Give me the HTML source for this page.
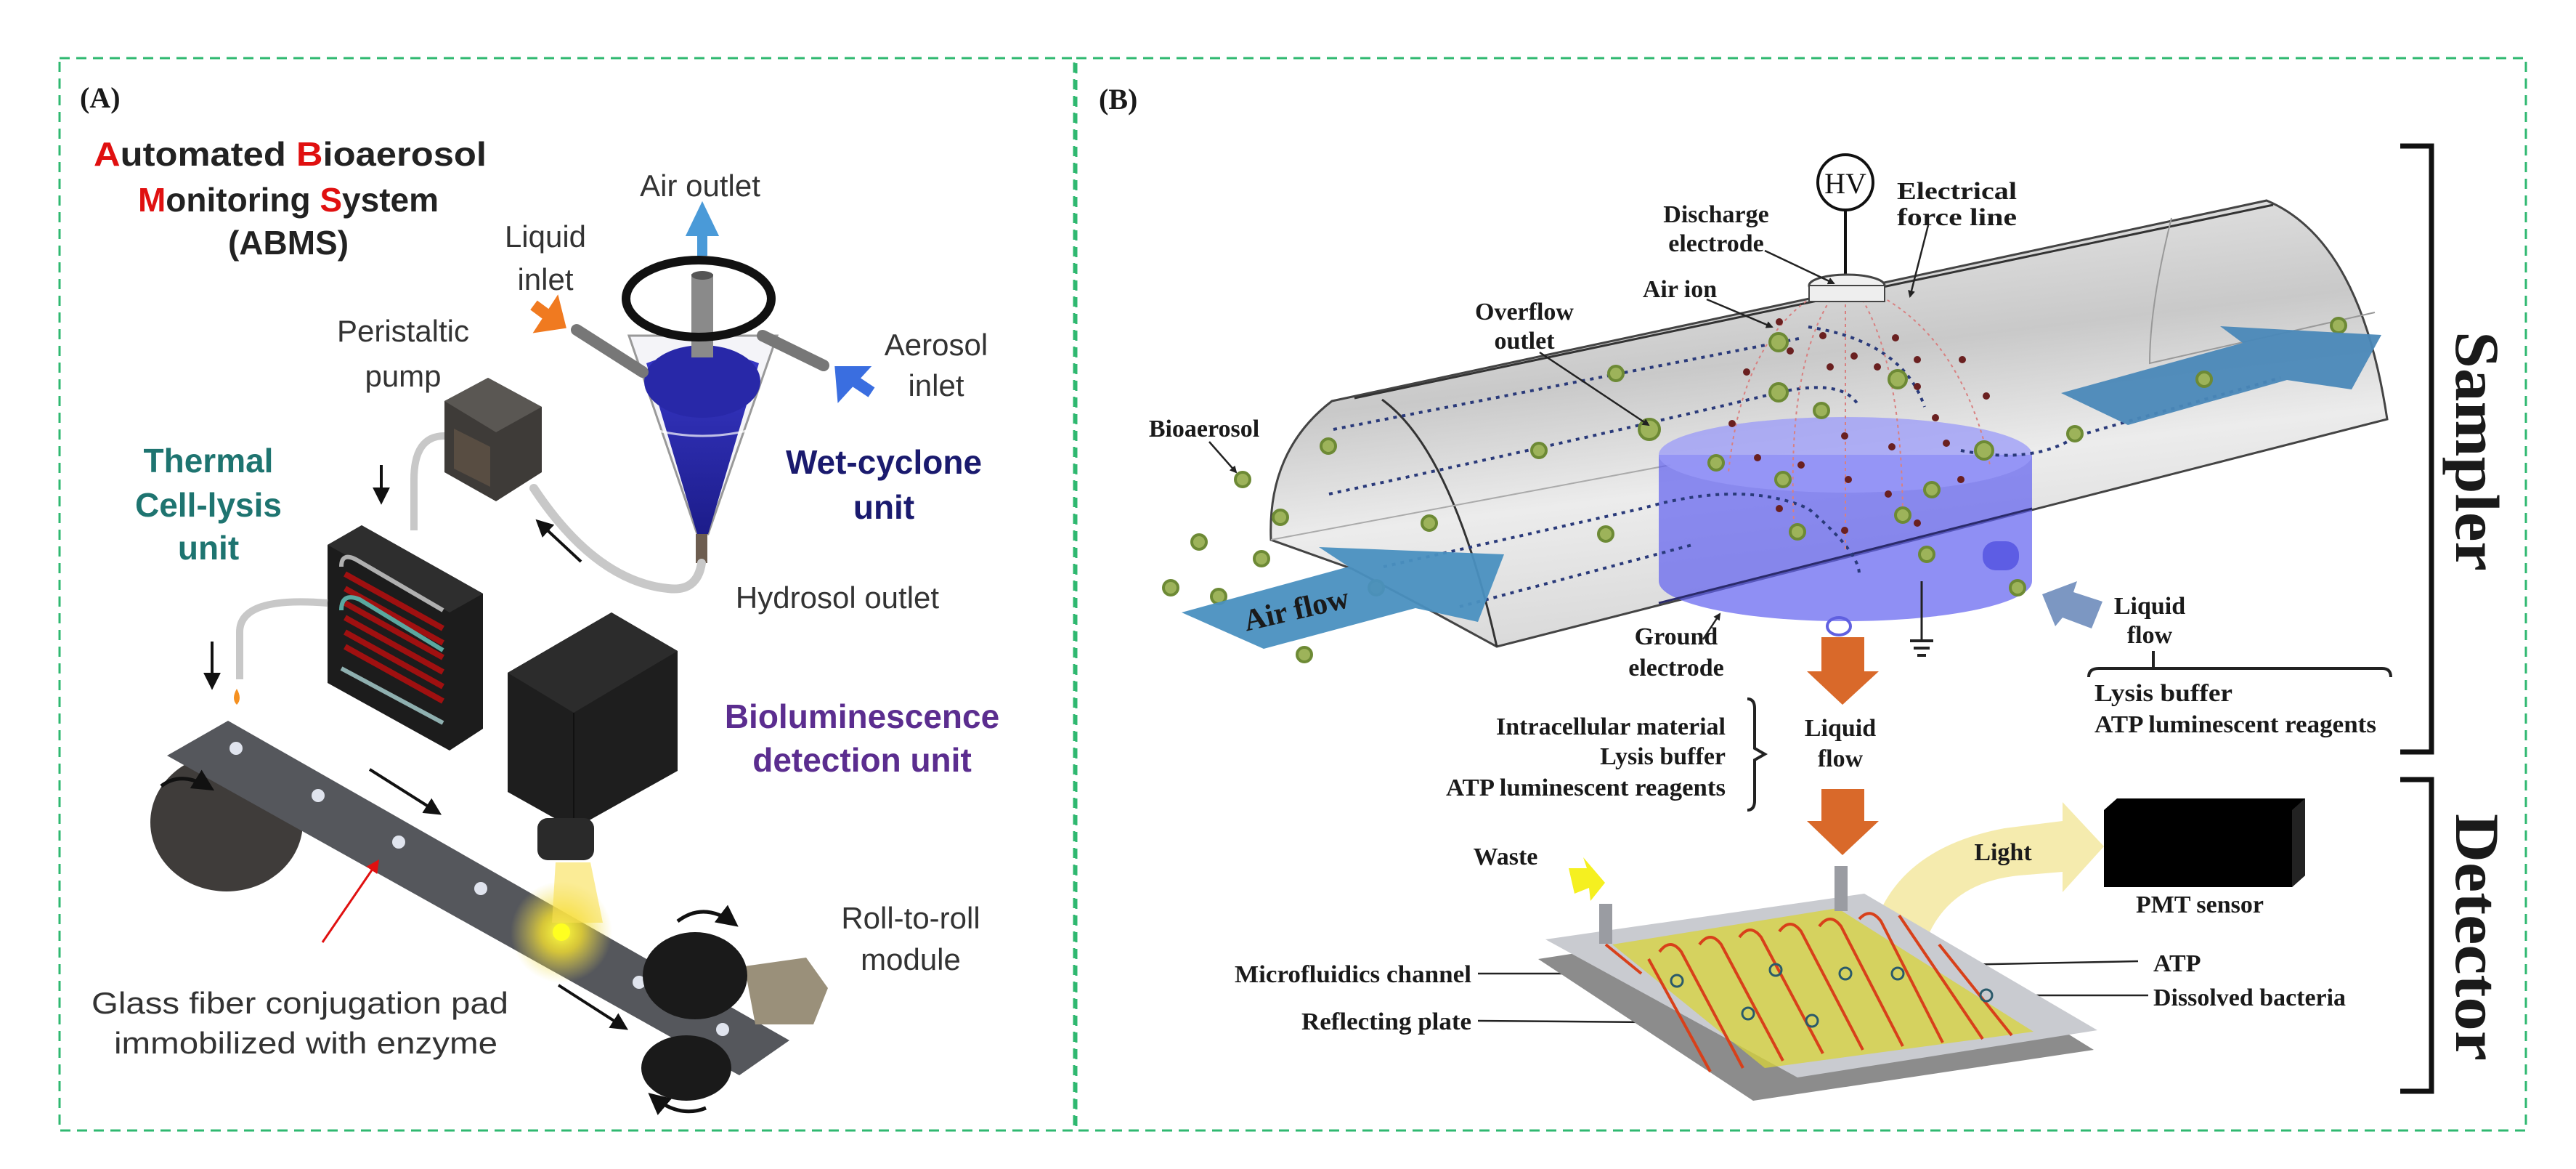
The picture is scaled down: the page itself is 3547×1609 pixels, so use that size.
<!DOCTYPE html>
<html><head><meta charset="utf-8"><style>
html,body{margin:0;padding:0;background:#fff;}
svg{display:block;}
.sa{font-family:"Liberation Sans",Arial,sans-serif;fill:#333;}
.sr{font-family:"Liberation Serif","Times New Roman",serif;font-weight:bold;fill:#1a1a1a;}
</style></head><body>
<svg width="3547" height="1609" viewBox="0 0 3547 1609" xmlns="http://www.w3.org/2000/svg">
<defs>
<linearGradient id="tube" x1="0" y1="0" x2="0.3" y2="1">
<stop offset="0" stop-color="#f4f4f4"/><stop offset="0.45" stop-color="#c9c9c9"/><stop offset="0.7" stop-color="#ececec"/><stop offset="1" stop-color="#d8d8d8"/></linearGradient>
<radialGradient id="glow"><stop offset="0" stop-color="#ffff40"/><stop offset="0.4" stop-color="#f5e030" stop-opacity="0.8"/><stop offset="1" stop-color="#f0e060" stop-opacity="0"/></radialGradient>
<linearGradient id="blue" x1="0" y1="0" x2="0" y2="1"><stop offset="0" stop-color="#3838c8"/><stop offset="1" stop-color="#1c1c8a"/></linearGradient>
<marker id="ah" viewBox="0 0 10 10" refX="8" refY="5" markerWidth="6" markerHeight="6" orient="auto"><path d="M0,0L10,5L0,10z" fill="#111"/></marker>
<marker id="ahr" viewBox="0 0 10 10" refX="8" refY="5" markerWidth="6" markerHeight="6" orient="auto"><path d="M0,0L10,5L0,10z" fill="#e01010"/></marker>
<marker id="ahs" viewBox="0 0 10 10" refX="8" refY="5" markerWidth="4" markerHeight="4" orient="auto"><path d="M0,0L10,5L0,10z" fill="#222"/></marker>
</defs>

<rect x="82" y="80" width="1397" height="1476" fill="none" stroke="#2fb870" stroke-width="3" stroke-dasharray="14,9"/>
<rect x="1482" y="80" width="1996" height="1476" fill="none" stroke="#2fb870" stroke-width="3" stroke-dasharray="14,9"/>

<!-- ============ PANEL A ============ -->
<text x="110" y="148" class="sr" font-size="40">(A)</text>
<g font-family="Liberation Sans,Arial,sans-serif" font-weight="bold" font-size="46" fill="#222">
<text x="129" y="228" textLength="541" lengthAdjust="spacingAndGlyphs"><tspan fill="#e01010">A</tspan>utomated <tspan fill="#e01010">B</tspan>ioaerosol</text>
<text x="397" y="291" text-anchor="middle"><tspan fill="#e01010">M</tspan>onitoring <tspan fill="#e01010">S</tspan>ystem</text>
<text x="397" y="350" text-anchor="middle">(ABMS)</text>
</g>
<g class="sa" font-size="42">
<text x="964" y="270" text-anchor="middle">Air outlet</text>
<text x="751" y="340" text-anchor="middle">Liquid</text>
<text x="751" y="399" text-anchor="middle">inlet</text>
<text x="555" y="470" text-anchor="middle">Peristaltic</text>
<text x="555" y="532" text-anchor="middle">pump</text>
<text x="1289" y="489" text-anchor="middle">Aerosol</text>
<text x="1289" y="545" text-anchor="middle">inlet</text>
<text x="1153" y="837" text-anchor="middle">Hydrosol outlet</text>
<text x="1254" y="1278" text-anchor="middle">Roll-to-roll</text>
<text x="1254" y="1335" text-anchor="middle">module</text>
<text x="413" y="1395" text-anchor="middle" textLength="574" lengthAdjust="spacingAndGlyphs">Glass fiber conjugation pad</text>
<text x="421" y="1450" text-anchor="middle" textLength="528" lengthAdjust="spacingAndGlyphs">immobilized with enzyme</text>
</g>
<g font-family="Liberation Sans,Arial,sans-serif" font-weight="bold" font-size="46">
<text x="287" y="650" text-anchor="middle" fill="#1e7470">Thermal</text>
<text x="287" y="711" text-anchor="middle" fill="#1e7470">Cell-lysis</text>
<text x="287" y="770" text-anchor="middle" fill="#1e7470">unit</text>
<text x="1217" y="652" text-anchor="middle" fill="#1a1a6e">Wet-cyclone</text>
<text x="1217" y="714" text-anchor="middle" fill="#1a1a6e">unit</text>
<text x="1187" y="1002" text-anchor="middle" fill="#5b2d8f">Bioluminescence</text>
<text x="1187" y="1062" text-anchor="middle" fill="#5b2d8f">detection unit</text>
</g>

<path d="M866,462 L1070,462 L975,735 L960,735 Z" fill="#f4f4f8" stroke="#999" stroke-width="3"/>
<path d="M890,500 Q967,470 1045,500 L975,735 L960,735 Z" fill="url(#blue)"/>
<ellipse cx="967" cy="525" rx="80" ry="50" fill="#2828a8"/>
<path d="M895,590 Q967,610 1040,590" stroke="#fff" stroke-width="3" fill="none" opacity="0.7"/>
<line x1="794" y1="454" x2="885" y2="512" stroke="#777" stroke-width="16" stroke-linecap="round"/>
<line x1="1050" y1="462" x2="1134" y2="503" stroke="#777" stroke-width="16" stroke-linecap="round"/>
<rect x="952" y="377" width="30" height="115" fill="#8a8a8a"/>
<ellipse cx="967" cy="379" rx="15" ry="6" fill="#555"/>
<ellipse cx="962" cy="411" rx="100" ry="53" fill="none" stroke="#111" stroke-width="12"/>
<rect x="958" y="735" width="16" height="40" fill="#6d5d50"/>
<path d="M967,352 L967,315 M955,318 L967,293 L979,318 Z" stroke="#4a9ad8" stroke-width="14" fill="#4a9ad8"/>
<path d="M735,420 L762,440 M750,448 L770,445 L765,425Z" stroke="#f07a20" stroke-width="16" fill="#f07a20"/>
<path d="M1200,540 L1170,520 M1160,536 L1158,512 L1182,512 Z" stroke="#3a6ee0" stroke-width="16" fill="#3a6ee0"/>
<path d="M966,775 Q960,815 920,810 Q820,800 735,672" fill="none" stroke="#c8c8c8" stroke-width="12" stroke-linecap="round"/>
<polygon points="612,552 672,520 746,560 746,650 683,690 612,650" fill="#3e3b38"/>
<polygon points="612,552 672,520 746,560 683,595" fill="#5a5753"/>
<polygon points="625,590 675,615 675,670 625,645" fill="#6a5a4a" opacity="0.6"/>
<path d="M612,600 Q570,600 570,660 L570,730" fill="none" stroke="#c8c8c8" stroke-width="10"/>
<line x1="525" y1="640" x2="525" y2="690" stroke="#111" stroke-width="4" marker-end="url(#ah)"/>
<line x1="800" y1="773" x2="741" y2="718" stroke="#111" stroke-width="4" marker-end="url(#ah)"/>
<polygon points="451,750 498,723 665,817 665,1003 619,1033 451,940" fill="#1c1c1c"/>
<polygon points="451,750 498,723 665,817 619,843" fill="#2e2e2e"/>
<g fill="none" stroke-width="6">
<path d="M470,780 Q470,760 490,770 L610,840" stroke="#b0b0b0"/>
<path d="M475,790 L610,865 M475,810 L610,885 M475,830 L610,905 M475,850 L610,925 M475,870 L610,945 M475,890 L610,965" stroke="#a01010" stroke-width="8"/>
<path d="M470,840 Q470,815 495,825 L610,895" stroke="#5aa8a0"/>
<path d="M470,920 L610,995" stroke="#8fb0b0"/>
</g>
<path d="M451,830 Q330,820 330,870 L330,935" fill="none" stroke="#c8c8c8" stroke-width="10"/>
<line x1="292" y1="883" x2="292" y2="945" stroke="#111" stroke-width="4" marker-end="url(#ah)"/>
<path d="M326,948 Q318,962 326,970 Q334,962 326,948Z" fill="#f59020"/>
<ellipse cx="312" cy="1132" rx="105" ry="95" fill="#3f3c3a"/>
<polygon points="314,992 1087,1432 1018,1480 230,1040" fill="#55575c"/>
<circle cx="773" cy="1283" r="70" fill="url(#glow)"/>
<polygon points="765,1187 813,1187 830,1270 760,1270" fill="#f8e050" opacity="0.6"/>
<g fill="#e0e4ee"><circle cx="325" cy="1030" r="9"/><circle cx="438" cy="1095" r="9"/><circle cx="549" cy="1159" r="9"/><circle cx="662" cy="1223" r="9"/><circle cx="880" cy="1352" r="9"/><circle cx="995" cy="1417" r="9"/></g>
<circle cx="773" cy="1283" r="12" fill="#ffff20"/>
<path d="M222,1082 Q250,1060 290,1085" stroke="#111" stroke-width="5" fill="none" marker-end="url(#ah)"/>
<line x1="509" y1="1059" x2="604" y2="1119" stroke="#111" stroke-width="4" marker-end="url(#ah)"/>
<line x1="769" y1="1356" x2="861" y2="1415" stroke="#111" stroke-width="4" marker-end="url(#ah)"/>
<line x1="444" y1="1297" x2="520" y2="1186" stroke="#e01010" stroke-width="3" marker-end="url(#ahr)"/>
<polygon points="699,926 842,843 933,896 933,1061 790,1141 699,1090" fill="#1e1e1e"/>
<polygon points="699,926 842,843 933,896 790,981" fill="#2c2c2c"/>
<line x1="790" y1="981" x2="790" y2="1141" stroke="#111" stroke-width="2"/>
<rect x="740" y="1126" width="78" height="58" rx="14" fill="#2a2a2a"/>
<polygon points="1025,1330 1110,1318 1140,1360 1120,1410 1040,1410" fill="#9a907a"/>
<ellipse cx="957" cy="1343" rx="72" ry="60" fill="#1a1a1a"/>
<ellipse cx="945" cy="1470" rx="62" ry="45" fill="#1a1a1a"/>
<path d="M933,1268 Q970,1240 1012,1272" stroke="#111" stroke-width="5" fill="none" marker-end="url(#ah)"/>
<path d="M972,1525 Q935,1540 897,1508" stroke="#111" stroke-width="5" fill="none" marker-end="url(#ah)"/>

<!-- ============ PANEL B ============ -->
<text x="1513" y="150" class="sr" font-size="40">(B)</text>
<path d="M3305,201 L3348,201 L3348,1035 L3305,1035" fill="none" stroke="#111" stroke-width="7"/>
<path d="M3305,1073 L3348,1073 L3348,1502 L3305,1502" fill="none" stroke="#111" stroke-width="7"/>
<text class="sr" font-size="86" transform="translate(3382,621) rotate(90)" text-anchor="middle" textLength="330" lengthAdjust="spacingAndGlyphs" fill="#111">Sampler</text>
<text class="sr" font-size="86" transform="translate(3382,1290) rotate(90)" text-anchor="middle" textLength="340" lengthAdjust="spacingAndGlyphs" fill="#111">Detector</text>

<path d="M1834,552 L3121,276 Q3250,330 3287,577 L2061,890 L1960,835 L1862,783 L1750,743 Q1745,620 1834,552 Z" fill="url(#tube)" stroke="#444" stroke-width="3"/>
<path d="M1903,550 Q2000,620 2061,890" fill="none" stroke="#333" stroke-width="3"/>
<line x1="1865" y1="548" x2="3130" y2="282" stroke="#333" stroke-width="3"/>
<path d="M2990,300 Q2960,420 2960,500 L3270,430" fill="none" stroke="#999" stroke-width="2"/>
<line x1="1750" y1="743" x2="2300" y2="640" stroke="#aaa" stroke-width="2"/>
<path d="M2284,626 L2284,800 A257,55 0 0 0 2798,800 L2798,626 Z" fill="#6060f0" opacity="0.7"/>
<ellipse cx="2541" cy="626" rx="257" ry="52" fill="#9a9af8" opacity="0.75"/>
<rect x="2730" y="745" width="50" height="40" rx="18" fill="#5050e0" opacity="0.8"/>
<ellipse cx="2532" cy="862" rx="16" ry="12" fill="none" stroke="#6060e0" stroke-width="4"/>
<line x1="2284" y1="830" x2="2798" y2="700" stroke="#2a2a6a" stroke-width="3"/>
<g fill="none" stroke="#2a3a7a" stroke-width="4" stroke-dasharray="5,7">
<path d="M1836,591 L2482,465"/>
<path d="M1830,680 Q2200,600 2450,540 Q2540,520 2560,560"/>
<path d="M1905,780 L2260,700 Q2400,660 2490,700 Q2560,760 2560,790"/>
<path d="M2010,835 L2330,750"/>
<path d="M2700,620 Q2800,640 2860,600 L3140,520"/>
<path d="M2490,450 Q2620,470 2650,560"/>
</g>
<g fill="none" stroke="#d88080" stroke-width="2" stroke-dasharray="4,5">
<path d="M2510,400 Q2400,460 2380,650"/><path d="M2525,405 Q2460,500 2470,720"/>
<path d="M2541,410 L2541,760"/><path d="M2560,405 Q2620,500 2620,720"/>
<path d="M2575,400 Q2700,460 2740,640"/>
</g>
<g fill="#6a2020">
<circle cx="2450" cy="443" r="5"/><circle cx="2465" cy="483" r="5"/><circle cx="2510" cy="462" r="5"/><circle cx="2553" cy="490" r="5"/><circle cx="2520" cy="505" r="5"/><circle cx="2585" cy="505" r="5"/><circle cx="2610" cy="465" r="5"/><circle cx="2640" cy="495" r="5"/><circle cx="2702" cy="495" r="5"/><circle cx="2405" cy="512" r="5"/><circle cx="2640" cy="532" r="5"/><circle cx="2665" cy="575" r="5"/><circle cx="2735" cy="545" r="5"/><circle cx="2385" cy="583" r="5"/><circle cx="2540" cy="600" r="5"/><circle cx="2605" cy="615" r="5"/><circle cx="2680" cy="610" r="5"/><circle cx="2420" cy="630" r="5"/><circle cx="2480" cy="640" r="5"/><circle cx="2545" cy="660" r="5"/><circle cx="2600" cy="680" r="5"/><circle cx="2700" cy="660" r="5"/><circle cx="2450" cy="700" r="5"/><circle cx="2540" cy="730" r="5"/><circle cx="2640" cy="720" r="5"/>
</g>
<circle cx="2541" cy="251" r="38" fill="#fff" stroke="#111" stroke-width="4"/>
<text x="2541" y="266" text-anchor="middle" font-family="Liberation Serif,serif" font-size="40" fill="#111">HV</text>
<line x1="2541" y1="289" x2="2541" y2="385" stroke="#111" stroke-width="4"/>
<ellipse cx="2543" cy="393" rx="52" ry="15" fill="#f0f0f0" stroke="#444" stroke-width="3"/>
<rect x="2491" y="393" width="104" height="22" fill="#eee" stroke="#444" stroke-width="2"/>
<g fill="#9db35a" stroke="#6d8a35" stroke-width="4">
<circle cx="1829" cy="614" r="10"/><circle cx="1711" cy="660" r="10"/><circle cx="1763" cy="712" r="10"/><circle cx="1651" cy="746" r="10"/><circle cx="1737" cy="769" r="10"/><circle cx="1612" cy="809" r="10"/><circle cx="1678" cy="821" r="10"/><circle cx="1796" cy="901" r="10"/><circle cx="1895" cy="809" r="10"/><circle cx="1968" cy="720" r="10"/><circle cx="2119" cy="620" r="10"/><circle cx="2211" cy="735" r="10"/><circle cx="2225" cy="514" r="10"/><circle cx="2271" cy="591" r="14"/><circle cx="2449" cy="471" r="12"/><circle cx="2449" cy="540" r="12"/><circle cx="2508" cy="565" r="10"/><circle cx="2613" cy="522" r="12"/><circle cx="2363" cy="637" r="10"/><circle cx="2455" cy="660" r="10"/><circle cx="2660" cy="674" r="10"/><circle cx="2620" cy="709" r="10"/><circle cx="2475" cy="732" r="10"/><circle cx="2732" cy="620" r="12"/><circle cx="2653" cy="763" r="10"/><circle cx="2778" cy="809" r="10"/><circle cx="2857" cy="597" r="10"/><circle cx="3035" cy="522" r="10"/><circle cx="3220" cy="448" r="10"/>
</g>
<polygon points="1627,843 1857,780 1816,753 2071,763 2035,856 1949,837 1740,893" fill="#4a90c0" opacity="0.95"/>
<text class="sr" font-size="42" transform="translate(1788,852) rotate(-13)" text-anchor="middle" fill="#0f1f3a">Air flow</text>
<polygon points="2838,541 3088,472 3057,449 3279,461 3238,536 3149,523 2930,585" fill="#4a88b8" opacity="0.95"/>
<circle cx="3035" cy="522" r="10" fill="#9db35a" stroke="#6d8a35" stroke-width="4"/>
<polygon points="2812,818 2860,800 2855,815 2895,828 2880,865 2840,850 2830,862" fill="#7c97c2"/>
<line x1="2646" y1="800" x2="2646" y2="880" stroke="#222" stroke-width="3"/>
<path d="M2630,882 H2662 M2635,892 H2657 M2640,902 H2652" stroke="#222" stroke-width="4"/>

<!-- light arrow (behind labels) -->
<path d="M2574,1300 Q2600,1170 2760,1140 L2840,1130 L2840,1104 L2897,1165 L2840,1228 L2840,1200 L2780,1205 Q2680,1215 2650,1300 Z" fill="#f3e7a0" opacity="0.85"/>
<polygon points="2897,1115 2915,1099 3174,1099 3174,1205 3156,1221 2897,1221" fill="#000"/>
<polygon points="3156,1115 3174,1099 3174,1205 3156,1221" fill="#222"/>

<g class="sr" font-size="34">
<text x="2612" y="274" textLength="165" lengthAdjust="spacingAndGlyphs">Electrical</text>
<text x="2612" y="310" textLength="165" lengthAdjust="spacingAndGlyphs">force line</text>
<text x="2363" y="306" text-anchor="middle">Discharge</text>
<text x="2363" y="346" text-anchor="middle">electrode</text>
<text x="2313" y="409" text-anchor="middle">Air ion</text>
<text x="2099" y="440" text-anchor="middle">Overflow</text>
<text x="2099" y="480" text-anchor="middle">outlet</text>
<text x="1658" y="601" text-anchor="middle">Bioaerosol</text>
<text x="2308" y="887" text-anchor="middle">Ground</text>
<text x="2308" y="930" text-anchor="middle">electrode</text>
<text x="2960" y="845" text-anchor="middle">Liquid</text>
<text x="2960" y="885" text-anchor="middle">flow</text>
<text x="2884" y="965" textLength="190" lengthAdjust="spacingAndGlyphs">Lysis buffer</text>
<text x="2884" y="1008" textLength="388" lengthAdjust="spacingAndGlyphs">ATP luminescent reagents</text>
<text x="2376" y="1011" text-anchor="end" textLength="316" lengthAdjust="spacingAndGlyphs">Intracellular material</text>
<text x="2376" y="1052" text-anchor="end">Lysis buffer</text>
<text x="2376" y="1095" text-anchor="end" textLength="385" lengthAdjust="spacingAndGlyphs">ATP luminescent reagents</text>
<text x="2534" y="1013" text-anchor="middle">Liquid</text>
<text x="2534" y="1055" text-anchor="middle">flow</text>
<text x="2073" y="1190" text-anchor="middle">Waste</text>
<text x="2758" y="1184" text-anchor="middle">Light</text>
<text x="3029" y="1256" text-anchor="middle">PMT sensor</text>
<text x="2026" y="1352" text-anchor="end" textLength="326" lengthAdjust="spacingAndGlyphs">Microfluidics channel</text>
<text x="2026" y="1417" text-anchor="end" textLength="234" lengthAdjust="spacingAndGlyphs">Reflecting plate</text>
<text x="2965" y="1337">ATP</text>
<text x="2965" y="1384" textLength="265" lengthAdjust="spacingAndGlyphs">Dissolved bacteria</text>
</g>
<g stroke="#222" stroke-width="2.5" marker-end="url(#ahs)" fill="none">
<line x1="2430" y1="345" x2="2525" y2="390"/>
<line x1="2655" y1="310" x2="2630" y2="408"/>
<line x1="2350" y1="412" x2="2440" y2="450"/>
<line x1="2120" y1="485" x2="2270" y2="585"/>
<line x1="1665" y1="608" x2="1702" y2="650"/>
<line x1="2345" y1="880" x2="2368" y2="845"/>
<line x1="2035" y1="1340" x2="2261" y2="1340"/>
<line x1="2035" y1="1405" x2="2271" y2="1407"/>
<line x1="2944" y1="1323" x2="2695" y2="1328"/>
<line x1="2958" y1="1370" x2="2756" y2="1370"/>
</g>
<path d="M2876,932 Q2876,920 2890,920 L3280,920 Q3292,920 3292,932 M2965,896 L2965,920" fill="none" stroke="#222" stroke-width="4"/>
<path d="M2406,962 Q2416,962 2416,975 L2416,1030 L2430,1038 L2416,1046 L2416,1102 Q2416,1115 2406,1115" fill="none" stroke="#222" stroke-width="4"/>
<polygon points="2508,877 2567,877 2567,924 2587,924 2537,970 2488,924 2508,924" fill="#d9692a"/>
<polygon points="2508,1086 2567,1086 2567,1130 2587,1130 2537,1177 2488,1130 2508,1130" fill="#d9692a"/>
<polygon points="2118,1320 2567,1250 2883,1445 2414,1515" fill="#8c8c8c"/>
<polygon points="2128,1293 2567,1230 2888,1418 2475,1483" fill="#c9cbd0"/>
<polygon points="2220,1300 2530,1250 2800,1420 2430,1470" fill="#d8d43a" opacity="0.75"/>
<g fill="none" stroke="#d8401a" stroke-width="4">
<path d="M2211,1300 L2260,1340 M2285,1310 Q2300,1290 2315,1310 L2400,1470 M2340,1300 Q2355,1280 2370,1300 L2455,1460 M2395,1290 Q2410,1270 2425,1290 L2510,1450 M2450,1282 Q2465,1262 2480,1282 L2565,1445 M2505,1275 Q2520,1255 2535,1275 L2620,1440 M2560,1265 Q2575,1248 2590,1268 L2675,1435 M2615,1260 L2730,1430 M2270,1320 L2355,1475 M2670,1300 L2770,1425"/>
</g>
<g fill="none" stroke="#2a5a6a" stroke-width="3"><circle cx="2309" cy="1350" r="8"/><circle cx="2445" cy="1335" r="8"/><circle cx="2541" cy="1340" r="8"/><circle cx="2613" cy="1340" r="8"/><circle cx="2407" cy="1395" r="8"/><circle cx="2495" cy="1405" r="8"/><circle cx="2735" cy="1370" r="8"/></g>
<rect x="2202" y="1244" width="18" height="55" fill="#9a9ca2"/>
<rect x="2526" y="1192" width="18" height="62" fill="#9a9ca2"/>
<polygon points="2160,1195 2185,1195 2180,1180 2210,1215 2190,1240 2188,1222 2168,1230" fill="#f5f020"/>
</svg>
</body></html>
